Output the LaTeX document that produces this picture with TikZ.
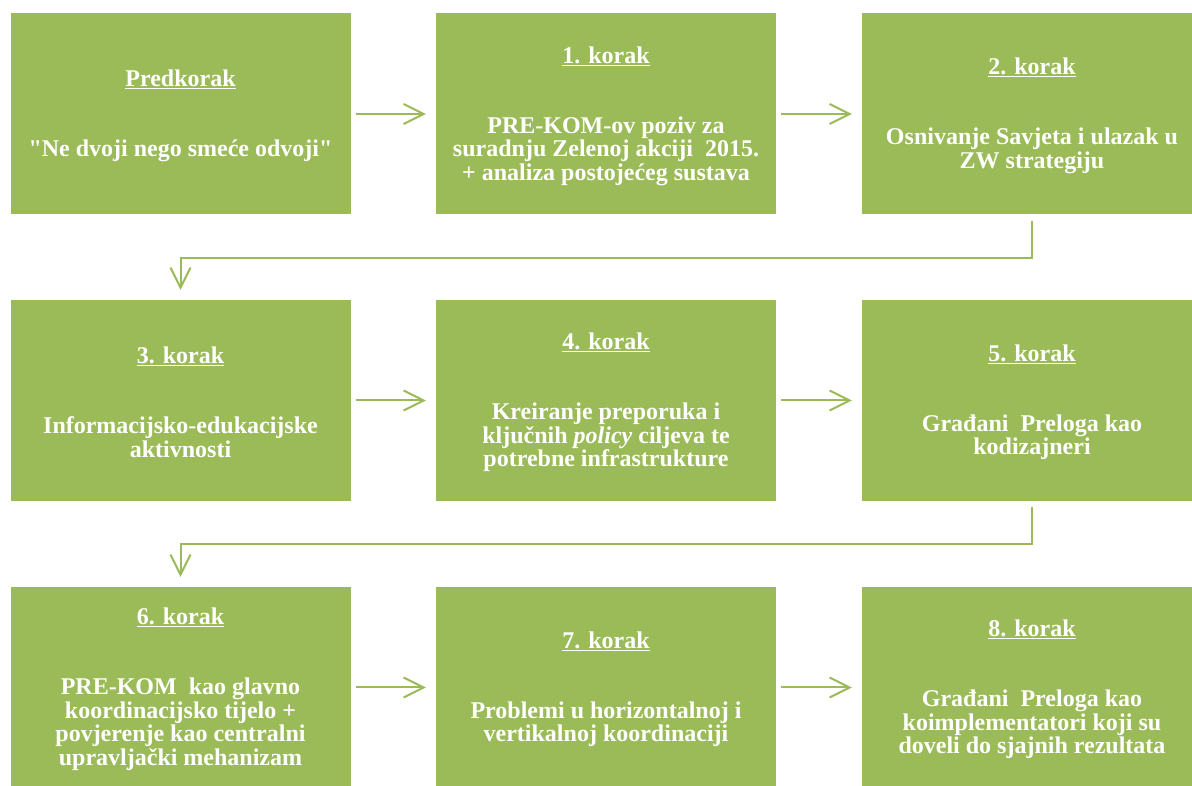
\documentclass[tikz,border=0pt]{standalone}
\usepackage{fontspec}
\setmainfont{Liberation Serif}[Ligatures=TeXOff]
\usetikzlibrary{arrows.meta}
\definecolor{boxgreen}{HTML}{9BBB59}
\newcommand{\steptitle}[1]{\rule{0pt}{20.5pt}\underline{#1}}
\begin{document}
\begin{tikzpicture}[x=1pt,y=1pt,
  box/.style={fill=boxgreen, draw=none, minimum width=340pt, minimum height=201pt,
    inner sep=0pt, text=white, align=center,
    font=\fontsize{24}{23.5}\selectfont\bfseries},
  conn/.style={draw=boxgreen, line width=2pt, -{Straight Barb[length=20pt,width=20pt]},
    shorten <=5pt, shorten >=10pt}]
\useasboundingbox (0,0) rectangle (1192,785);
\clip (0,0) rectangle (1192,785);
% row 1
\node[box] (p0) at (180.5,671) {\steptitle{Predkorak}\\[46.5pt]"Ne dvoji nego smeće odvoji"};
\node[box] (p1) at (606,671) {\steptitle{1. korak}\\[46.5pt]PRE-KOM-ov poziv za\\suradnju Zelenoj akciji\ \ 2015.\\+ analiza postojećeg sustava};
\node[box] (p2) at (1032,671) {\steptitle{2. korak}\\[46.5pt]Osnivanje Savjeta i ulazak u\\ZW strategiju};
% row 2
\node[box] (p3) at (180.5,384.5) {\steptitle{3. korak}\\[46.5pt]Informacijsko-edukacijske\\aktivnosti};
\node[box] (p4) at (606,384.5) {\steptitle{4. korak}\\[46.5pt]Kreiranje preporuka i\\ključnih \textit{policy} ciljeva te\\potrebne infrastrukture};
\node[box] (p5) at (1032,384.5) {\steptitle{5. korak}\\[46.5pt]Građani\ \ Preloga kao\\kodizajneri};
% row 3
\node[box] (p6) at (180.5,97.5) {\steptitle{6. korak}\\[46.5pt]PRE-KOM\ \ kao glavno\\koordinacijsko tijelo +\\povjerenje kao centralni\\upravljački mehanizam};
\node[box] (p7) at (606,97.5) {\steptitle{7. korak}\\[46.5pt]Problemi u horizontalnoj i\\vertikalnoj koordinaciji};
\node[box] (p8) at (1032,97.5) {\steptitle{8. korak}\\[46.5pt]Građani\ \ Preloga kao\\koimplementatori koji su\\doveli do sjajnih rezultata};
% connectors
\draw[conn] (p0.east) -- (p1.west);
\draw[conn] (p1.east) -- (p2.west);
\draw[conn, shorten <=6pt] (p2.south) -- ++(0,-43) -| (p3.north);
\draw[conn] (p3.east) -- (p4.west);
\draw[conn] (p4.east) -- (p5.west);
\draw[conn, shorten <=6pt] (p5.south) -- ++(0,-43) -| (p6.north);
\draw[conn] (p6.east) -- (p7.west);
\draw[conn] (p7.east) -- (p8.west);
\end{tikzpicture}
\end{document}
